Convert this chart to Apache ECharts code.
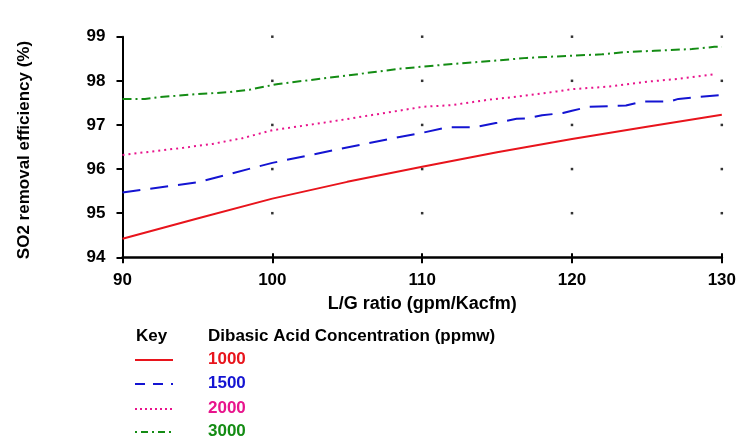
<!DOCTYPE html>
<html><head><meta charset="utf-8">
<script src="https://cdn.jsdelivr.net/npm/echarts@6/dist/echarts.min.js"></script>
<style>html,body{margin:0;padding:0;background:#fff}#c{width:739px;height:444px}</style>
</head><body><div id="c"></div>
<script>
const xTicks = [90, 100, 110, 120, 130];
const yTicks = [94, 95, 96, 97, 98, 99];
const seriesNames = ['1000', '1500', '2000', '3000'];
const seriesColors = ['#e8141c', '#1414d2', '#e8148c', '#148c14'];
const xTitle = 'L/G ratio (gpm/Kacfm)';
const yTitle = 'SO2 removal efficiency (%)';
const keyTitle = 'Key';
const legendTitle = 'Dibasic Acid Concentration (ppmw)';

const red1000 = [[90,94.42],[95,94.88],[100,95.33],[105,95.71],[110,96.05],[115,96.38],[120,96.68],[125,96.96],[130,97.23]];
const blue1500 = [[90,95.47],[95,95.7],[100,96.14],[104,96.42],[108.4,96.72],[110,96.82],[111.7,96.95],[113.5,96.95],[115,97.05],[116.3,97.14],[117,97.15],[118,97.22],[119.4,97.27],[120,97.32],[121.1,97.41],[123.6,97.44],[124.7,97.53],[126.5,97.53],[127.1,97.59],[130,97.68]];
const pink2000 = [[90,96.32],[92,96.4],[94,96.48],[96,96.57],[98,96.7],[100,96.88],[104,97.08],[108.4,97.32],[110,97.41],[112,97.45],[114.4,97.57],[116.3,97.64],[119,97.76],[120,97.81],[122.5,97.87],[125,97.98],[127,98.04],[129.6,98.15]];
const green3000 = [[90,97.59],[91.5,97.59],[92.5,97.63],[95,97.7],[97,97.74],[98.5,97.8],[99.5,97.87],[100.4,97.93],[105,98.12],[108.4,98.27],[110,98.32],[112,98.38],[113.5,98.42],[115,98.46],[117,98.52],[120,98.57],[122,98.6],[123.5,98.65],[125.5,98.68],[128,98.72],[129.5,98.77],[130,98.77]];
const seriesData = [red1000, blue1500, pink2000, green3000];
const dashTypes = ['solid', [18, 10], [2, 4], [9, 4, 2, 4]];
const legendDash = [null, [10, 8], [2, 3], [2, 4, 7, 4]];

const font = 'Liberation Sans, Arial, sans-serif';
const chart = echarts.init(document.getElementById('c'));

const gridDots = [];
xTicks.slice(1).forEach(x => yTicks.slice(1).forEach(y => gridDots.push([x, y])));

const series = seriesData.map((d, i) => ({
  name: seriesNames[i], type: 'line', data: d, showSymbol: false, symbol: 'none',
  lineStyle: { color: seriesColors[i], width: 2, type: dashTypes[i] },
  silent: true, z: 3
}));
series.push({ type: 'scatter', data: gridDots, symbol: 'rect', symbolSize: 2.5,
  itemStyle: { color: '#000' }, silent: true, z: 2 });

const graphic = [];
graphic.push({ type: 'text', x: 136, y: 336, style: { text: keyTitle, font: 'bold 17px ' + font, fill: '#000', verticalAlign: 'middle' } });
graphic.push({ type: 'text', x: 208, y: 336, style: { text: legendTitle, font: 'bold 17px ' + font, fill: '#000', verticalAlign: 'middle' } });
const rowY = [359, 383, 408, 431];
seriesNames.forEach((n, i) => {
  graphic.push({ type: 'line', shape: { x1: 135, y1: rowY[i] + 1, x2: 173, y2: rowY[i] + 1 },
    style: { stroke: seriesColors[i], lineWidth: 2, lineDash: legendDash[i] } });
  graphic.push({ type: 'text', x: 208, y: rowY[i], style: { text: n, font: 'bold 17px ' + font, fill: seriesColors[i], verticalAlign: 'middle' } });
});
graphic.push({ type: 'text', x: 24, y: 150, rotation: Math.PI / 2,
  style: { text: yTitle, font: 'bold 17px ' + font, fill: '#000', align: 'center', verticalAlign: 'middle' } });

const labelStyle = { fontFamily: font, fontWeight: 'bold', fontSize: 17, color: '#000' };
chart.setOption({
  animation: false,
  backgroundColor: '#fff',
  grid: { left: 122.5, right: 12.3, top: 36.7, bottom: 186.7 },
  xAxis: [{
    type: 'value', min: 90, max: 130, interval: 10,
    name: xTitle, nameLocation: 'middle', nameGap: 38,
    nameTextStyle: { fontFamily: font, fontWeight: 'bold', fontSize: 18, color: '#000' },
    axisLine: { show: true, lineStyle: { color: '#000', width: 2.5 } },
    axisTick: { show: true, length: 6, lineStyle: { color: '#000', width: 2 } },
    axisLabel: Object.assign({ margin: 15 }, labelStyle),
    splitLine: { show: false }
  }, {
    type: 'value', min: 90, max: 130, interval: 10, position: 'bottom',
    axisLine: { show: false },
    axisTick: { show: true, inside: true, length: 4, lineStyle: { color: '#000', width: 2 } },
    axisLabel: { show: false }, splitLine: { show: false }
  }],
  yAxis: {
    type: 'value', min: 94, max: 99, interval: 1,
    axisLine: { show: true, lineStyle: { color: '#000', width: 2 } },
    axisTick: { show: true, length: 6, lineStyle: { color: '#000', width: 2 } },
    axisLabel: Object.assign({ margin: 17 }, labelStyle),
    splitLine: { show: false }
  },
  series: series,
  graphic: graphic
});
</script></body></html>
